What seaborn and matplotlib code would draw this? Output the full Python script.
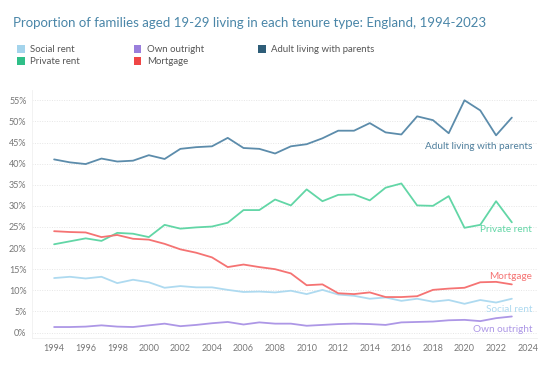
import numpy as np
import pandas as pd
import matplotlib
matplotlib.use("Agg")
import matplotlib.pyplot as plt
from matplotlib.patches import Patch
import seaborn as sns

years = list(range(1994, 2024))

social_rent = [12.9, 13.2, 12.8, 13.2, 11.7, 12.5, 11.9, 10.6, 11.0, 10.7,
               10.7, 10.1, 9.6, 9.7, 9.5, 9.9, 9.1, 10.1, 9.0, 8.7,
               8.0, 8.3, 7.5, 8.0, 7.3, 7.7, 6.8, 7.7, 7.1, 8.0]
own_outright = [1.3, 1.3, 1.4, 1.7, 1.4, 1.3, 1.7, 2.1, 1.5, 1.8,
                2.2, 2.5, 1.9, 2.4, 2.1, 2.1, 1.6, 1.8, 2.0, 2.1,
                2.0, 1.8, 2.4, 2.5, 2.6, 2.9, 3.0, 2.7, 3.4, 3.8]
with_parents = [41.0, 40.3, 39.9, 41.2, 40.5, 40.7, 42.0, 41.1, 43.5, 43.9,
                44.1, 46.1, 43.7, 43.5, 42.4, 44.1, 44.6, 46.0, 47.8, 47.8,
                49.6, 47.4, 46.9, 51.2, 50.3, 47.2, 55.0, 52.6, 46.7, 50.9]
private_rent = [20.9, 21.6, 22.3, 21.7, 23.6, 23.4, 22.6, 25.5, 24.6, 24.9,
                25.1, 26.0, 29.0, 29.0, 31.5, 30.1, 33.9, 31.1, 32.6, 32.7,
                31.3, 34.3, 35.3, 30.1, 30.0, 32.3, 24.8, 25.5, 31.1, 26.1]
mortgage = [24.0, 23.8, 23.7, 22.6, 23.1, 22.2, 22.0, 21.0, 19.7, 18.9,
            17.8, 15.5, 16.1, 15.5, 15.0, 14.0, 11.2, 11.4, 9.3, 9.1,
            9.5, 8.4, 8.4, 8.6, 10.1, 10.4, 10.6, 11.9, 12.0, 11.4]

series = {
    "Social rent": social_rent,
    "Own outright": own_outright,
    "Adult living with parents": with_parents,
    "Private rent": private_rent,
    "Mortgage": mortgage,
}
line_colors = {
    "Social rent": "#aedaf0",
    "Own outright": "#ad97e6",
    "Adult living with parents": "#5c8cab",
    "Private rent": "#62d6a6",
    "Mortgage": "#f57373",
}
legend_colors = {
    "Social rent": "#a4d4ec",
    "Own outright": "#9a7fdc",
    "Adult living with parents": "#2e5d78",
    "Private rent": "#2fbf88",
    "Mortgage": "#ef4646",
}

df = pd.DataFrame([(y, k, v) for k, vals in series.items() for y, v in zip(years, vals)],
                  columns=["year", "tenure", "value"])

sns.set_style("white")
plt.rcParams["font.family"] = ["Lato", "DejaVu Sans"]

fig = plt.figure(figsize=(5.52, 3.68), dpi=100)
ax = fig.add_axes([0.058, 0.0815, 0.915, 0.6735])

sns.lineplot(data=df, x="year", y="value", hue="tenure", palette=line_colors,
             linewidth=1.3, legend=False, ax=ax)

ax.set_xlim(1992.6, 2024.6)
ax.set_ylim(-1.3, 57.4)
ax.set_xticks(range(1994, 2025, 2))
ax.set_yticks(range(0, 56, 5))
ax.set_yticklabels([f"{v}%" for v in range(0, 56, 5)])
ax.tick_params(axis="both", labelsize=6.5, colors="#777777", length=0, pad=4)
ax.set_xlabel("")
ax.set_ylabel("")
ax.grid(axis="y", linestyle=(0, (1, 1.5)), color="#e6e6e6", linewidth=0.7)
for s in ["top", "right"]:
    ax.spines[s].set_visible(False)
for s in ["left", "bottom"]:
    ax.spines[s].set_color("#f0f0f0")
    ax.spines[s].set_linewidth(0.6)

# direct labels at line ends
labels = [
    ("Adult living with parents", 44.1),
    ("Private rent", 24.3),
    ("Mortgage", 13.2),
    ("Social rent", 5.4),
    ("Own outright", 0.7),
]
for name, yv in labels:
    ax.text(2024.3, yv, name, ha="right", va="center", fontsize=7.2,
            color=line_colors[name] if name != "Adult living with parents" else "#4e7e9c")

fig.text(0.023, 0.937, "Proportion of families aged 19-29 living in each tenure type: England, 1994-2023",
         fontsize=9.5, color="#4a86a8", ha="left", va="center")

# legend filled column by column, so order gives the reference rows
order = ["Social rent", "Private rent", "Own outright", "Mortgage", "Adult living with parents"]
handles = [Patch(facecolor=legend_colors[k], edgecolor="none", label=k) for k in order]
fig.legend(handles=handles, loc="upper left", bbox_to_anchor=(0.015, 0.9), ncol=3,
           frameon=False, fontsize=6.9, labelcolor="#555555", handlelength=0.8,
           handleheight=0.8, handletextpad=0.6, columnspacing=5.6, labelspacing=0.3)

fig.savefig("out.png", dpi=100, facecolor="white")
